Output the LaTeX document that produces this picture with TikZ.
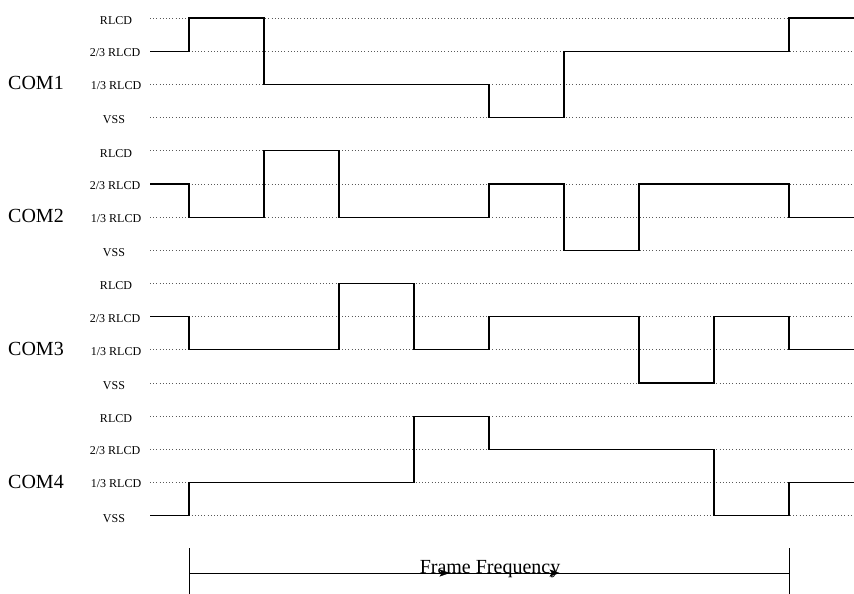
\documentclass[tikz,border=0pt]{standalone}
\usepackage{fontspec}
\setmainfont{Liberation Serif}
\begin{document}
\begin{tikzpicture}[x=1pt,y=-1pt,
  lvl/.style={draw=black!65, line width=0.8pt, dash pattern=on 1pt off 2.2pt},
  wave/.style={draw=black, line width=1.2pt, line join=miter},
  lvllabel/.style={font=\fontsize{12}{14}\selectfont, anchor=center, inner sep=0pt},
  comlabel/.style={font=\fontsize{20}{22}\selectfont, anchor=center, inner sep=0pt},
  framebar/.style={draw=black, line width=1pt},
  tiphead/.style={fill=black, draw=black, line width=0.4pt, line join=miter}]
\useasboundingbox (0,0) rectangle (854,594);
% level y values
\foreach \g/\name in {0/1,1/2,2/3,3/4}{
  \pgfmathsetmacro{\base}{18+\g*132.7}
  \foreach \k in {0,1,2,3}{
    \draw[lvl] (150,{\base+\k*33.2}) -- (854,{\base+\k*33.2});
  }
  \node[lvllabel] (r\name) at (116,{\base+2.5}) {RLCD};
  \node[lvllabel] (a\name) at (115,{\base+33.2+1.5}) {2/3 RLCD};
  \node[lvllabel] (b\name) at (116,{\base+66.4+1.5}) {1/3 RLCD};
  \node[lvllabel] (v\name) at (114,{\base+99.6+2.5}) {VSS};
  \node[comlabel] (com\name) at (36,{\base+66.4-1}) {COM\name};
}
% COM1
\def\R{18}\def\A{51.2}\def\B{84.4}\def\V{117.6}
\draw[wave] (150,\A) -- (189,\A) -- (189,\R) -- (264,\R) -- (264,\B) -- (489,\B) -- (489,\V) -- (564,\V) -- (564,\A) -- (789,\A) -- (789,\R) -- (854,\R);
% COM2
\def\R{150.7}\def\A{183.9}\def\B{217.1}\def\V{250.3}
\draw[wave] (150,\A) -- (189,\A) -- (189,\B) -- (264,\B) -- (264,\R) -- (339,\R) -- (339,\B) -- (489,\B) -- (489,\A) -- (564,\A) -- (564,\V) -- (639,\V) -- (639,\A) -- (789,\A) -- (789,\B) -- (854,\B);
% COM3
\def\R{283.4}\def\A{316.6}\def\B{349.8}\def\V{383}
\draw[wave] (150,\A) -- (189,\A) -- (189,\B) -- (339,\B) -- (339,\R) -- (414,\R) -- (414,\B) -- (489,\B) -- (489,\A) -- (639,\A) -- (639,\V) -- (714,\V) -- (714,\A) -- (789,\A) -- (789,\B) -- (854,\B);
% COM4
\def\R{416.1}\def\A{449.3}\def\B{482.5}\def\V{515.7}
\draw[wave] (150,\V) -- (189,\V) -- (189,\B) -- (414,\B) -- (414,\R) -- (489,\R) -- (489,\A) -- (714,\A) -- (714,\V) -- (789,\V) -- (789,\B) -- (854,\B);
% Frame frequency
\coordinate (fl) at (189,573);
\coordinate (fr) at (789,573);
\coordinate (ft) at (189,548);
\coordinate (fb) at (189,594);
\coordinate (gt) at (789,548);
\coordinate (gb) at (789,594);
\draw[framebar] (ft) -- (fb);
\draw[framebar] (gt) -- (gb);
\draw[framebar] (fl) -- (fr);
\node[font=\fontsize{20}{22}\selectfont, inner sep=0pt] (ff) at (490,569) {Frame Frequency};
\coordinate (h1) at (449,573);
\coordinate (h2) at (559,573);
\draw[tiphead] (h1) -- ++(-9,-3.2) -- ++(2,3.2) -- ++(-2,3.2) -- cycle;
\draw[tiphead] (h2) -- ++(-9,-3.2) -- ++(2,3.2) -- ++(-2,3.2) -- cycle;
\end{tikzpicture}
\end{document}
